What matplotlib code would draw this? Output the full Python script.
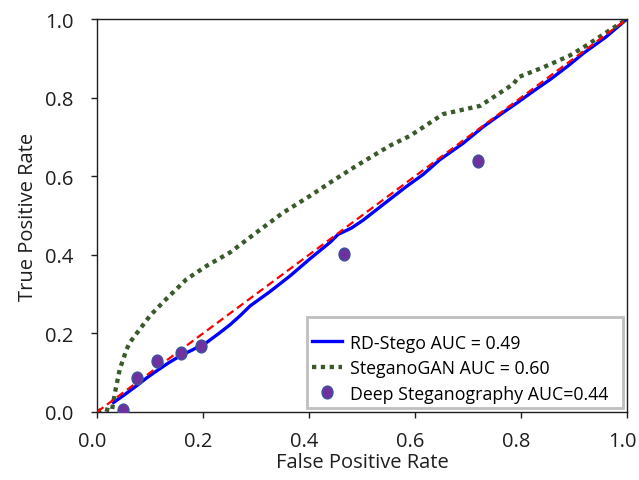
import matplotlib
matplotlib.use("Agg")
import matplotlib.pyplot as plt
from matplotlib.path import Path
from matplotlib.patches import Rectangle
from matplotlib.transforms import Affine2D, ScaledTranslation

plt.rcParams['font.family'] = ['Open Sans', 'DejaVu Sans']

# Chance diagonal
diag_x = [0.0, 1.0]
diag_y = [0.0, 1.0]

# RD-Stego ROC (AUC = 0.49)
rd_fpr = [0.031, 0.05, 0.075, 0.095, 0.113, 0.135, 0.157, 0.18, 0.207, 0.23,
          0.251, 0.27, 0.289, 0.326, 0.364, 0.402, 0.44, 0.455, 0.48, 0.502,
          0.54, 0.584, 0.615, 0.647, 0.691, 0.729, 0.76, 0.792, 0.825, 0.855,
          0.89, 0.918, 0.96, 1.0]
rd_tpr = [0.024, 0.042, 0.067, 0.088, 0.105, 0.125, 0.143, 0.158, 0.177, 0.2,
          0.222, 0.245, 0.27, 0.306, 0.346, 0.39, 0.432, 0.452, 0.468, 0.488,
          0.528, 0.574, 0.604, 0.642, 0.684, 0.726, 0.756, 0.786, 0.818, 0.846,
          0.882, 0.913, 0.954, 1.0]

# SteganoGAN ROC (AUC = 0.60)
sg_fpr = [0.0, 0.012, 0.028, 0.034, 0.043, 0.056, 0.062, 0.081, 0.1, 0.131,
          0.169, 0.207, 0.251, 0.301, 0.352, 0.402, 0.44, 0.49, 0.553, 0.591,
          0.653, 0.723, 0.767, 0.786, 0.795, 0.842, 0.892, 0.918, 1.0]
sg_tpr = [0.0, 0.008, 0.003, 0.05, 0.109, 0.16, 0.177, 0.211, 0.245, 0.288,
          0.338, 0.372, 0.406, 0.457, 0.508, 0.55, 0.584, 0.627, 0.678, 0.703,
          0.758, 0.779, 0.818, 0.835, 0.852, 0.877, 0.907, 0.928, 1.0]

# Deep Steganography operating points (AUC = 0.44)
ds_fpr = [0.049, 0.075, 0.113, 0.158, 0.196, 0.466, 0.719]
ds_tpr = [0.005, 0.086, 0.13, 0.15, 0.168, 0.402, 0.639]

labels = ["RD-Stego AUC = 0.49", "SteganoGAN AUC = 0.60", "Deep Steganography AUC=0.44"]
x_ticks = [0.0, 0.2, 0.4, 0.6, 0.8, 1.0]
y_ticks = [0.0, 0.2, 0.4, 0.6, 0.8, 1.0]

fig = plt.figure(figsize=(6.39, 4.81), dpi=100)
ax = fig.add_axes([97/639, 68/481, 530/639, 393/481])

ellipse = Path.unit_circle().transformed(Affine2D().scale(0.85, 1.0))

ax.plot(diag_x, diag_y, color='#ff0000', lw=1.6, dashes=(3.6, 2.0), zorder=3)
l1, = ax.plot(rd_fpr, rd_tpr, color='#0000ff', lw=2.4, zorder=2, label=labels[0])
l2, = ax.plot(sg_fpr, sg_tpr, color='#3b5a2b', lw=3.1, dashes=(1, 1.05), zorder=2, label=labels[1])
l3, = ax.plot(ds_fpr, ds_tpr, linestyle='none', marker=ellipse, markersize=9,
              markerfacecolor='#7030a0', markeredgecolor='#41509c', markeredgewidth=1.2,
              zorder=4, label=labels[2])

ax.set_xlim(0, 1)
ax.set_ylim(0, 1)
ax.set_xticks(x_ticks)
ax.set_yticks(y_ticks)
ax.set_xticklabels([f"{v:.1f}" for v in x_ticks])
ax.set_yticklabels([f"{v:.1f}" for v in y_ticks])
ax.tick_params(direction='out', length=4.5, width=1, labelsize=14.5, colors='#1e1e1e')
ax.tick_params(axis='x', pad=9)
ax.tick_params(axis='y', pad=12.5)
shift = ScaledTranslation(-5/100, 0, fig.dpi_scale_trans)
for lab in ax.get_xticklabels():
    lab.set_transform(lab.get_transform() + shift)
for s in ax.spines.values():
    s.set_linewidth(1.0)
    s.set_color('#1e1e1e')

ax.set_xlabel("False Positive Rate", fontsize=14.5, color='#1e1e1e', labelpad=1)
ax.set_ylabel("True Positive Rate", fontsize=14.5, color='#1e1e1e', labelpad=5)

# legend frame drawn as a fixed box, legend entries placed inside it
box = Rectangle((0.396, 0.010), 0.596, 0.232, transform=ax.transAxes,
                facecolor='white', edgecolor='#bfbfbf', lw=2, zorder=5)
ax.add_patch(box)
leg = ax.legend(handles=[l1, l2, l3], loc='upper left', fontsize=12.8, frameon=False,
                handlelength=1.69, handletextpad=0.45, borderpad=0.0, borderaxespad=0.0,
                labelspacing=0.42, bbox_to_anchor=(0.405, 0.1995))
leg.set_zorder(6)

fig.savefig("out.png", dpi=100)
